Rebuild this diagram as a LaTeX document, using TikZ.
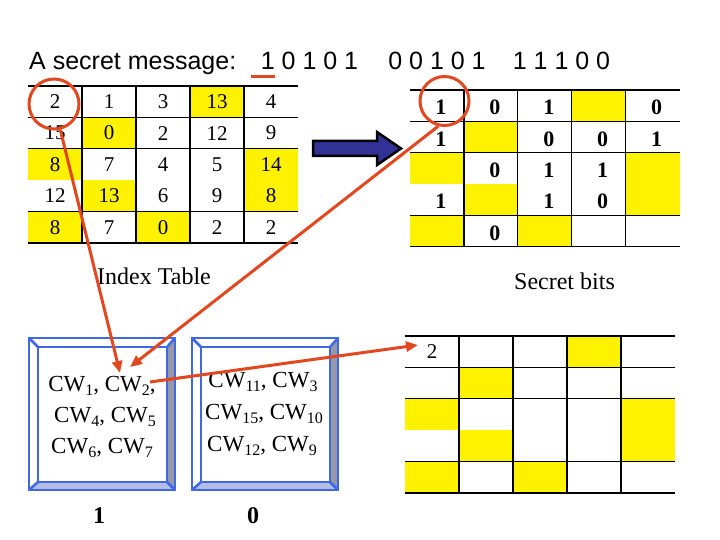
\documentclass[tikz,border=0pt]{standalone}
\usepackage{fontspec}
\setmainfont{Liberation Serif}
\newfontfamily\titlefont{Liberation Sans}
\usetikzlibrary{arrows.meta}
\definecolor{redln}{RGB}{226,72,32}
\definecolor{boxblue}{RGB}{62,104,228}
\definecolor{navyfill}{RGB}{50,50,150}
\definecolor{bandgray}{RGB}{150,152,168}
\definecolor{bandlav}{RGB}{178,188,228}
\newcommand\cwsub[1]{\raisebox{-4pt}{\fontsize{16}{16}\selectfont #1}}
\newcommand\cw[1]{CW\cwsub{#1}}
\tikzset{
  icell/.style={minimum width=54pt, minimum height=31.4pt, inner sep=0pt, font=\fontsize{21}{21}\selectfont},
  scell/.style={minimum width=53.9pt, minimum height=31.34pt, inner sep=0pt, font=\bfseries\fontsize{22}{22}\selectfont, xshift=4pt, yshift=-2pt},
  gridline/.style={line width=1.2pt, black},
  redarrow/.style={draw=redln, line width=3pt, -{Triangle[length=12pt,width=10pt]}},
  ring/.style={circle, draw=redln, line width=3pt, minimum size=50pt, inner sep=0pt},
  cwtext/.style={font=\fontsize{23}{23}\selectfont, anchor=base, inner sep=0pt},
  lbl/.style={font=\fontsize{24}{24}\selectfont, anchor=base, inner sep=0pt},
  titletext/.style={font=\titlefont\fontsize{25}{25}\selectfont, anchor=base, inner sep=0pt},
  frameline/.style={draw=boxblue, line width=2.5pt, line join=miter},
}
\begin{document}
\begin{tikzpicture}[x=1pt,y=-1pt]
\useasboundingbox (0,0) rectangle (720,540);
\fill[white] (0,0) rectangle (720,540);

% title
\node[titletext, anchor=base west] (title) at (29,70) {A secret message:};
\node[titletext] (g1) at (309.5,70) {1 0 1 0 1};
\node[titletext] (g2) at (437,70) {0 0 1 0 1};
\node[titletext] (g3) at (561.5,70) {1 1 1 0 0};
\draw[redln, line width=3pt] (251,77) -- (275,77);

% yellow cells in the three tables
\foreach \r/\c in {1/4,2/2,3/1,3/5,4/2,4/5,5/1,5/3} {
  \fill[yellow] ({28+54*(\c-1)},{86+31.4*(\r-1)}) rectangle ++(54,31.4);
  \fill[yellow] ({410+53.9*(\c-1)},{90+31.34*(\r-1)}) rectangle ++(53.9,31.34);
  \fill[yellow] ({405+54*(\c-1)},{336+31.4*(\r-1)}) rectangle ++(54,31.4);
}

% index table
\foreach \row [count=\r] in {{2,1,3,13,4},{15,0,2,12,9},{8,7,4,5,14},{12,13,6,9,8},{8,7,0,2,2}} {
  \foreach \v [count=\c] in \row {
    \node[icell] (I-\r-\c) at ({28+54*(\c-0.5)},{86+31.4*(\r-0.5)}) {\v};
  }
}
\foreach \r in {0,1,2,4,5} \draw[gridline] (28,{86+31.4*\r}) -- (298,{86+31.4*\r});
\foreach \c in {1,2,3,4} \draw[gridline] ({28+54*\c},86) -- ({28+54*\c},243);

% secret bits table
\foreach \row [count=\r] in {{1,0,1,{},0},{1,{},0,0,1},{{},0,1,1,{}},{1,{},1,0,{}},{{},0,{},{},{}}} {
  \foreach \v [count=\c] in \row {
    \node[scell] (S-\r-\c) at ({410+53.9*(\c-0.5)},{90+31.34*(\r-0.5)}) {\v};
  }
}
\foreach \r in {0,1,2,4,5} \draw[gridline] (410,{90+31.34*\r}) -- (679.5,{90+31.34*\r});
\foreach \c in {1,2,3,4} \draw[gridline] ({410+53.9*\c},90) -- ({410+53.9*\c},246.7);

% lower grid
\node[icell] (L-1-1) at (432,351.7) {2};
\foreach \r in {0,1,2,4,5} \draw[gridline] (405,{336+31.4*\r}) -- (675,{336+31.4*\r});
\foreach \c in {1,2,3,4} \draw[gridline] ({405+54*\c},336) -- ({405+54*\c},493);

% captions
\node[lbl] (itab) at (154,284) {Index Table};
\node[lbl] (sbits) at (564.5,289.5) {Secret bits};

% blue block arrow
\draw[fill=navyfill, draw=black, line width=2.5pt, line join=miter]
  (313,141) -- (377,141) -- (377,132) -- (401,148.5) -- (377,165) -- (377,156) -- (313,156) -- cycle;

% framed boxes
\foreach \bx in {29,192} {
  \fill[bandgray] ({\bx+146},338) -- ({\bx+146},490) -- ({\bx+138},482) -- ({\bx+138},347) -- cycle;
  \fill[bandlav] (\bx,490) -- ({\bx+146},490) -- ({\bx+138},482) -- ({\bx+9},482) -- cycle;
  \draw[frameline] (\bx,338) rectangle ({\bx+146},490);
  \draw[frameline] ({\bx+9},347) rectangle ({\bx+138},482);
  \draw[frameline] (\bx,338) -- ({\bx+9},347);
  \draw[frameline] ({\bx+146},338) -- ({\bx+138},347);
  \draw[frameline] (\bx,490) -- ({\bx+9},482);
  \draw[frameline] ({\bx+146},490) -- ({\bx+138},482);
}

% box texts
\node[cwtext] (b1a) at (102,391) {\cw{1}, \cw{2},};
\node[cwtext] (b1b) at (105,422) {\cw{4}, \cw{5}};
\node[cwtext] (b1c) at (102,453) {\cw{6}, \cw{7}};
\node[cwtext] (b2a) at (263,387) {\cw{11}, \cw{3}};
\node[cwtext] (b2b) at (264,419) {\cw{15}, \cw{10}};
\node[cwtext] (b2c) at (262,451) {\cw{12}, \cw{9}};

\node[lbl, font=\bfseries\fontsize{24}{24}\selectfont] (one) at (99,523) {1};
\node[lbl, font=\bfseries\fontsize{24}{24}\selectfont] (zero) at (253,523) {0};

% red circles
\node[ring] (c1) at (54,104) {};
\node[ring, minimum size=49pt] (c2) at (444.5,101) {};

% arrow end points
\coordinate (t1) at (120,373);
\coordinate (t2) at (130,367);
\coordinate (s3) at (150,382);
\coordinate (t3) at (418,345);

\draw[redarrow] (c1) -- (t1);
\draw[redarrow] (c2.256) -- (t2);
\draw[redarrow] (s3) -- (t3);
\end{tikzpicture}
\end{document}
